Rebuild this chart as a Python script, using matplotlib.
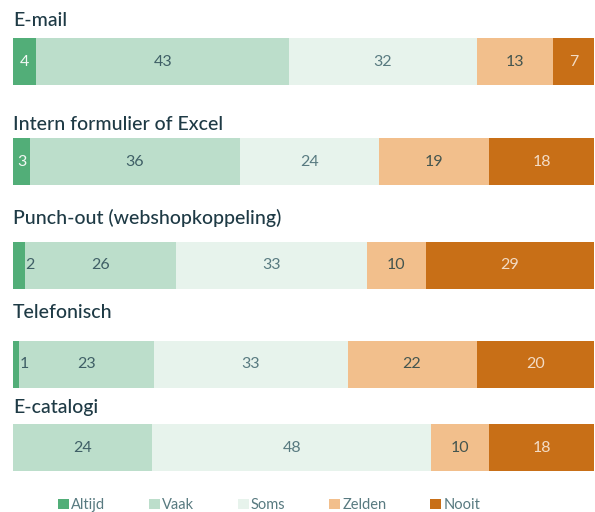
import numpy as np
import matplotlib
matplotlib.use('Agg')
import matplotlib.pyplot as plt
from matplotlib.patches import Patch

# ─── data ─────────────────────────────────────────────────────────────────
channels = ["E-mail", "Intern formulier of Excel", "Punch-out (webshopkoppeling)",
            "Telefonisch", "E-catalogi"]
categories = ["Altijd", "Vaak", "Soms", "Zelden", "Nooit"]
altijd = [4, 3, 2, 1, 0]
vaak   = [43, 36, 26, 23, 24]
soms   = [32, 24, 33, 33, 48]
zelden = [13, 19, 10, 22, 10]
nooit  = [7, 18, 29, 20, 18]

colors = ["#52ae78", "#bcdecb", "#e7f3ec", "#f2bf8c", "#c86f17"]
label_colors = ["#f2f8f4", "#3f5f66", "#587a80", "#44554f", "#f3dcc6"]
TITLE_COL = "#1e3a45"

# layout (pixel units of a 595x512 canvas)
W, H = 595, 512
bar_y = [61.5, 161.5, 265, 364, 447.5]
title_y = [21, 124, 218, 313, 408]
bar_h = 47
x0, x1 = 13, 594

plt.rcParams['font.family'] = ['Lato', 'DejaVu Sans']

fig = plt.figure(figsize=(W / 100, H / 100), dpi=100)
ax = fig.add_axes([x0 / W, 0, (x1 - x0) / W, 1])
ax.set_xlim(0, 100)
ax.set_ylim(H, 0)
ax.axis('off')

data = np.array([altijd, vaak, soms, zelden, nooit], dtype=float).T  # rows=channels
for i, row in enumerate(data):
    scaled = row / row.sum() * 100
    left = 0.0
    for j, (v, sv) in enumerate(zip(row, scaled)):
        if v <= 0:
            continue
        ax.barh(bar_y[i], sv, left=left, height=bar_h, color=colors[j], lw=0)
        if v < 3 and j == 0:
            # narrow segment: label sits just right of it
            ax.text(left + sv + 0.1, bar_y[i], f"{int(v)}", ha='left', va='center',
                    fontsize=11.5, color="#3f5f66")
        else:
            ax.text(left + sv / 2, bar_y[i], f"{int(v)}", ha='center', va='center',
                    fontsize=11.5, color=label_colors[j])
        left += sv
    ax.text(0, title_y[i], channels[i], ha='left', va='center', fontsize=14,
            color=TITLE_COL, fontweight='medium')

handles = [Patch(facecolor=c, edgecolor='none') for c in colors]
leg = fig.legend(handles, categories, loc='center', bbox_to_anchor=(0.452, 1 - 505 / H),
                 ncol=5, frameon=False, fontsize=10.5, handlelength=0.75, handleheight=0.75,
                 handletextpad=0.15, columnspacing=3.0, labelcolor="#587a80")

fig.savefig("out.png", dpi=100)
